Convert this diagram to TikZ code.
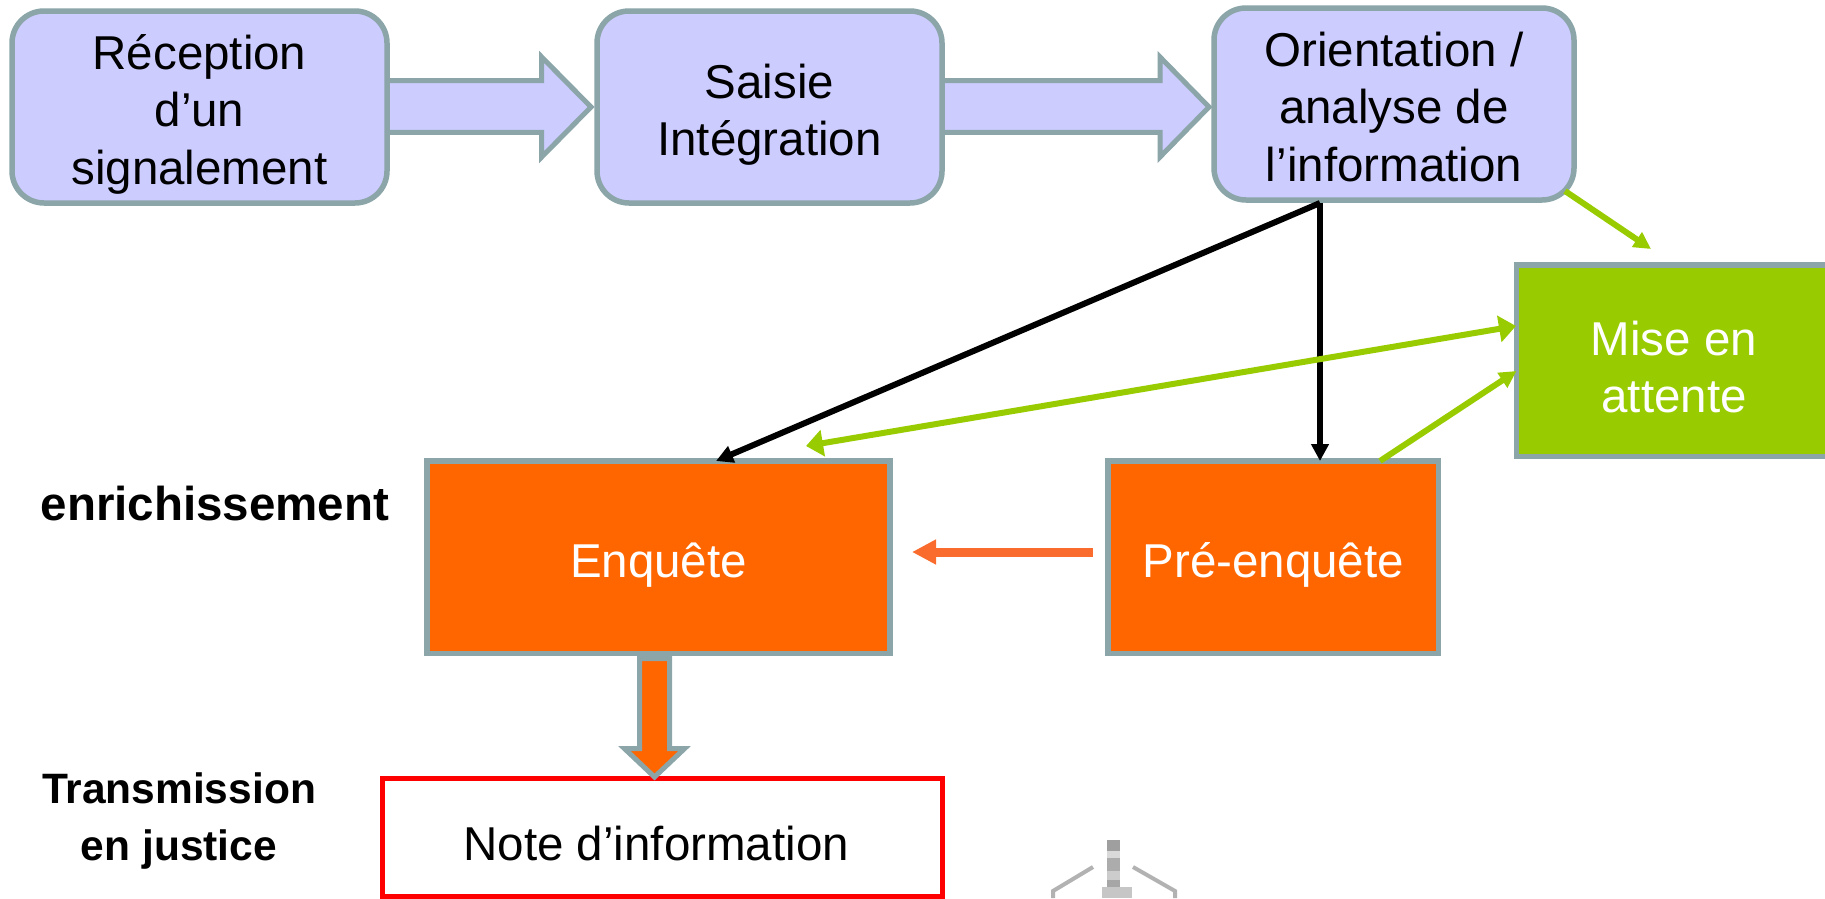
\documentclass[tikz,border=0pt]{standalone}
\usepackage{fontspec}
\setmainfont{Liberation Sans}
\usetikzlibrary{arrows.meta}
\definecolor{edgegrey}{HTML}{8BA5A8}
\definecolor{lav}{HTML}{CCCCFF}
\definecolor{orangebox}{HTML}{FF6600}
\definecolor{greenbox}{HTML}{99CC00}
\definecolor{redline}{HTML}{FF0000}
\definecolor{oarrow}{HTML}{FA6C2D}
\newcommand{\boxlines}[2][14.5pt]{\raisebox{-#1}[0pt][0pt]{\begin{tabular}{@{}c@{}}#2\end{tabular}}}
\tikzset{
 x=1pt,y=-1pt,
 roundbox/.style={draw=edgegrey,line width=5.5pt,fill=lav,rounded corners=32pt,inner sep=0pt,outer sep=0pt,anchor=north west,font=\fontsize{47.5}{57.5}\selectfont},
 flatbox/.style={draw=edgegrey,line width=5.5pt,inner sep=0pt,outer sep=0pt,anchor=north west,text=white,font=\fontsize{47.5}{57.5}\selectfont},
 label/.style={align=center,font=\bfseries\fontsize{42.5}{57.5}\selectfont},
 blockarrow/.style={draw=edgegrey,line width=5pt,fill=lav,line join=miter},
 thin arrow/.style={line width=6pt,-{Triangle[length=17pt,width=17pt]}},
 wide head/.style={line width=6pt,{Triangle[length=17pt,width=26pt]}-{Triangle[length=17pt,width=26pt]}},
}
\begin{document}
\begin{tikzpicture}
\useasboundingbox (0,0) rectangle (1825,898);
% block arrows
\draw[blockarrow] (380,80.7) -- (541.7,80.7) -- (541.7,57) -- (591,107) -- (541.7,157) -- (541.7,132.3) -- (380,132.3);
\draw[blockarrow] (935,80.7) -- (1160,80.7) -- (1160,57) -- (1209,107) -- (1160,157) -- (1160,132.3) -- (935,132.3);
% boxes
\node[roundbox,minimum width=375pt,minimum height=192pt] (recep) at (12,11) {\boxlines{Réception\\d’un\\signalement}};
\node[roundbox,minimum width=345pt,minimum height=192pt] (saisie) at (597,11) {\boxlines{Saisie\\Intégration}};
\node[roundbox,minimum width=360pt,minimum height=192pt] (orient) at (1214,8) {\boxlines{Orientation /\\analyse de\\l’information}};
\node[flatbox,fill=greenbox,minimum width=315pt,minimum height=191.7pt] (attente) at (1516.5,265) {\boxlines[18pt]{Mise en\\attente}};
\node[flatbox,fill=orangebox,minimum width=463pt,minimum height=192.5pt] (enq) at (427,461) {\boxlines[15pt]{Enquête}};
\node[flatbox,fill=orangebox,minimum width=330.5pt,minimum height=192.5pt] (pre) at (1108,461) {\boxlines[15pt]{Pré-enquête}};
\node[draw=redline,line width=5pt,fill=white,inner sep=0pt,outer sep=0pt,anchor=north west,minimum width=559.5pt,minimum height=118pt,font=\fontsize{47.5}{57.5}\selectfont] (note) at (382.5,778.5) {\boxlines[17.5pt]{Note d’information\rule{12pt}{0pt}}};
% down block arrow
\draw[fill=orangebox,draw=edgegrey,line width=5pt,line join=miter] (639.5,658.5) -- (639.5,748.7) -- (624.6,748.7) -- (654.5,777) -- (684.4,748.7) -- (669.5,748.7) -- (669.5,658.5) -- cycle;
% labels
\node[label,font=\bfseries\fontsize{47.5}{57.5}\selectfont] (enr) at (215,504) {enrichissement};
\node[label] (trans) at (179,821) {Transmission\\en justice};
% connectors
\coordinate (from) at (1320,203);
\draw[thin arrow] (from) -- (716,461);
\draw[thin arrow] (from) -- (1320,461);
\draw[thin arrow,greenbox] (1565,191) -- (1651,249);
\draw[wide head,greenbox] (806,446) -- (1516,326);
\draw[thin arrow,greenbox] (1380,461) -- (1516.5,371);
\draw[oarrow,line width=9pt,-{Triangle[length=24pt,width=23.5pt]}] (1093,552) -- (912,552);
% scale icon
\fill[gray!75] (1107,840) rectangle (1120,851);
\fill[gray!30] (1107,851) rectangle (1120,858);
\fill[gray!65] (1107,858) rectangle (1120,871);
\fill[gray!40] (1107,871) rectangle (1120,880);
\fill[gray!70] (1107,880) rectangle (1120,890);
\fill[gray!45] (1102,887) rectangle (1132,898);
\draw[line width=4pt,gray!60] (1053,898) -- (1053,891) -- (1093,867);
\draw[line width=4pt,gray!60] (1175,898) -- (1175,891) -- (1133,867);
\end{tikzpicture}
\end{document}
